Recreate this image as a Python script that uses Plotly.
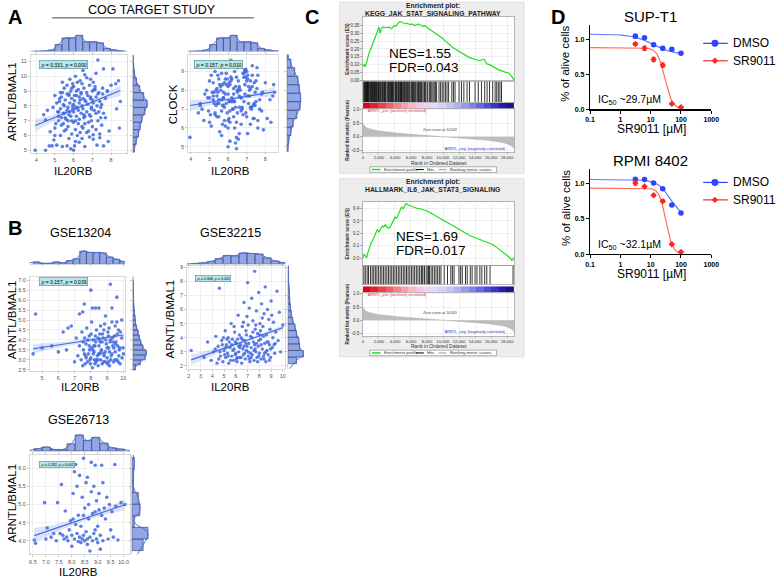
import numpy as np
import plotly.graph_objects as go

W, H = 777, 581
FONT = "Arial, Liberation Sans, Helvetica, sans-serif"
PT = "#4169e1"
BAND = "rgba(65,105,225,0.18)"
HIST_FILL = "#8fa6e8"
HIST_EDGE = "#404060"
KDE = "#4a6ee0"

# ======================= DATA =======================
# ---- Panel A : COG TARGET study ----
cog_il20rb = [3.95,4.5,4.7,4.85,4.95,5.1,5.4,5.65,5.85,6.0,
              6.05,6.3,6.45,6.6,7.25,7.6,7.05,7.4,7.85,7.05,
              6.7,4.75,5.0,4.5,5.2,4.4,5.3,5.5,5.7,5.9,
              6.1,6.25,6.5,6.8,7.2,7.5,7.9,8.45,5.2,5.35,
              5.5,5.6,5.75,5.9,6.0,6.15,6.3,6.4,6.55,6.7,
              6.9,7.1,7.3,7.6,4.9,5.1,5.3,5.45,5.55,5.7,
              5.8,5.95,6.05,6.2,6.3,6.45,6.6,6.75,6.9,7.05,
              7.2,7.4,7.7,8.3,8.5,5.0,5.3,5.5,5.65,5.85,
              6.0,6.15,6.25,6.4,6.55,6.7,6.85,7.0,7.15,7.35,
              7.55,7.8,8.0,8.25,5.4,5.8,6.1,6.35,6.6,6.9,
              7.2,7.6,8.1,8.4,7.3,6.5,5.95,5.25,4.6,6.0,
              6.35,5.45,7.0,6.1,5.75,6.85,7.45,6.5,5.65,6.95,
              5.15,5.35,5.55,5.75,5.95,6.15,6.35,6.55,6.75,6.95,
              7.15,7.35,7.55,5.25,5.45,5.65,5.85,6.05,6.25,6.45,
              6.65,6.85,7.05,7.25,7.45,5.05,5.6,6.2,6.8,7.4,
              5.4,5.9,6.4,6.9,7.5,5.7,6.0,6.3,6.6,7.0,
              5.2,5.8,6.1,6.5,7.1,7.7,5.5,6.2,6.7,7.3,
              5.0,5.35,5.9,6.45,6.95,7.8,6.1,6.6,5.75,7.2]
cog_arntl = [5.0,5.0,5.3,5.3,5.7,5.35,5.25,5.3,5.1,5.0,
             5.3,5.55,5.8,5.25,5.35,5.3,5.75,5.85,5.6,6.05,
             6.2,6.25,6.5,7.05,7.3,7.4,6.0,6.3,6.6,6.1,
             6.4,6.8,6.5,6.9,6.4,6.7,6.3,6.5,7.0,7.2,
             7.5,7.1,7.4,7.0,7.6,7.3,7.1,7.5,7.2,7.6,
             7.3,7.7,7.0,7.5,7.9,8.2,7.8,8.1,8.4,7.9,
             8.2,8.0,8.35,7.9,8.2,8.0,8.4,8.1,8.5,8.2,
             8.6,8.3,8.5,7.8,8.3,8.7,8.9,9.2,8.8,9.0,
             9.3,8.7,9.1,8.8,9.2,8.9,9.4,9.0,9.3,8.9,
             9.2,9.0,9.4,9.5,9.6,9.8,10.0,9.7,10.1,9.8,
             10.2,10.5,10.5,9.7,11.1,10.4,9.5,8.5,7.7,6.9,
             6.2,6.8,6.6,5.6,5.8,5.9,7.9,7.8,7.7,7.0,
             7.6,8.6,7.2,8.8,7.8,9.0,8.4,7.4,8.7,7.9,
             9.1,7.6,8.8,8.3,7.5,9.4,7.3,8.7,7.7,9.5,
             8.3,7.4,9.6,8.0,7.2,6.8,6.4,6.0,6.3,6.1,
             8.9,8.5,8.9,8.6,8.1,7.0,8.1,8.6,7.3,8.4,
             7.6,7.6,7.9,8.5,9.1,7.2,8.0,9.6,9.9,8.8,
             6.0,6.7,9.2,6.6,7.8,9.0,7.0,6.8,8.7,7.5]
cog_clock = [5.5,7.3,6.4,8.0,6.9,6.1,7.7,5.6,8.6,5.0,
             7.4,6.6,4.9,8.2,7.1,6.0,8.8,6.5,7.9,5.7,
             7.6,7.8,6.3,7.2,8.4,6.8,9.0,7.5,6.2,8.9,
             5.3,7.0,9.2,6.7,8.1,7.4,5.9,8.3,7.7,9.4,
             6.6,8.0,7.2,9.5,6.0,8.7,7.8,5.2,8.5,6.9,
             9.1,7.3,8.2,6.4,7.6,8.8,6.8,7.9,5.8,8.3,
             7.1,9.3,6.5,8.6,7.4,5.5,8.1,7.0,9.0,7.7,
             6.2,8.4,7.5,6.3,7.9,8.5,6.7,7.3,8.9,6.1,
             7.8,9.6,7.0,8.2,5.4,7.6,8.7,6.6,8.0,7.2,
             9.2,6.9,8.4,7.5,8.1,6.4,7.4,9.0,5.7,8.3,
             7.1,8.8,6.5,7.7,9.3,6.8,8.6,7.9,7.0,8.2,
             6.0,7.3,8.5,6.3,7.6,8.9,7.2,8.0,7.5,9.1,
             7.9,7.2,8.3,7.6,6.8,8.5,7.4,8.0,7.1,8.7,
             7.7,6.5,8.1,7.3,8.8,6.9,7.8,8.4,7.5,6.3,
             8.0,7.4,8.6,7.0,7.9,6.7,8.2,7.6,8.9,7.3,
             6.6,8.3,7.1,7.8,8.5,7.2,6.4,8.1,7.7,9.0,
             7.5,8.4,6.9,7.9,8.2,7.0,8.6,7.4,6.2,8.8,
             7.6,8.0,7.3,8.7,6.8,7.8,8.3,7.1,7.9,8.5]
cog_fit_arntl = (4.62, 0.52)      # intercept, slope
cog_fit_clock = (6.56, 0.16)
cog_stat_arntl = "<i>ρ</i> = 0.331, <i>p</i> = 0.000"
cog_stat_clock = "<i>ρ</i> = 0.157, <i>p</i> = 0.010"
cog_hist_x = (3.9, 0.37, [1, 2, 5, 22, 42, 42, 50, 30, 30, 27, 10, 5, 2])
cog_hist_arntl = (4.9, 0.5, [6, 12, 20, 26, 32, 42, 50, 38, 24, 13, 6, 3, 1])
cog_hist_clock = (4.7, 0.45, [3, 6, 14, 22, 36, 48, 50, 45, 40, 28, 14, 3])

# ---- Panel B : GSE13204 ----
b1_il20rb = [4.45,4.6,5.0,5.6,6.0,6.3,6.5,6.6,6.8,7.1,
             7.3,7.5,7.6,8.0,8.1,8.3,8.5,9.2,9.6,9.3,
             9.9,9.6,7.4,7.5,7.6,7.7,7.8,7.9,8.0,8.05,
             8.1,8.15,8.2,8.25,8.3,8.35,8.4,8.45,8.5,8.55,
             8.6,8.65,8.7,8.75,8.8,8.85,8.9,8.95,9.0,9.05,
             9.1,9.15,9.2,9.25,9.3,9.35,9.4,9.45,9.5,9.55,
             9.6,9.7,9.75,9.8,9.9,10.0,7.45,7.55,7.65,7.75,
             7.85,7.95,8.05,8.25,8.35,8.55,8.7,8.8,9.0,9.1,
             9.3,9.5,8.45,8.6,7.2,7.0,7.3,8.9,9.15,8.15,
             7.9,9.65,
             7.52,7.68,7.82,7.98,8.12,8.28,8.42,8.58,8.72,8.88,
             9.02,9.18,9.32,9.48,9.62,9.78,9.92,7.62,7.92,8.22,
             8.52,8.82,9.12,9.42,9.72,8.02,8.32,8.62,8.92,9.22,
             9.52,9.82,7.72,8.18,8.48,8.78,9.08,9.38,9.68,9.98]
b1_arntl = [3.3,5.3,3.6,3.7,3.4,4.4,3.5,4.6,4.7,4.1,
            5.3,5.4,5.8,6.5,5.6,5.6,5.6,6.8,6.15,5.6,
            5.0,4.9,3.0,2.7,3.3,3.8,2.9,4.2,3.1,3.6,
            2.6,4.0,3.4,2.8,3.9,4.5,3.2,2.7,3.7,4.3,
            3.0,3.5,2.8,4.1,3.3,4.8,2.9,3.8,3.1,4.4,
            3.6,2.7,4.0,3.2,4.9,3.7,2.9,4.2,3.4,3.9,
            3.0,4.5,3.5,2.8,4.1,3.3,4.4,3.5,2.8,4.6,
            3.3,3.0,4.9,3.7,3.0,3.3,3.9,4.5,3.6,2.9,
            3.3,4.7,4.1,4.7,3.2,2.9,3.7,5.2,3.4,3.3,
            3.7,3.7,
            3.9,3.2,4.0,2.8,3.5,4.2,3.0,3.9,4.3,3.4,
            2.8,3.9,4.1,3.0,4.3,3.6,3.1,4.1,3.5,3.0,
            4.0,3.2,4.6,3.6,3.2,4.3,2.9,3.4,4.0,3.0,
            3.8,4.4,3.1,3.7,3.3,2.9,4.2,3.9,2.9,3.6]
b1_fit = (3.0, 0.125)
b1_stat = "<i>ρ</i> = 0.157, <i>p</i> = 0.039"
b1_hist_x = (4.45, 0.41, [4, 1, 1, 4, 2, 7, 11, 28, 25, 25, 24, 15, 10, 5])
b1_hist_y = (2.5, 0.25, [5, 14, 23, 25, 19, 15, 12, 10, 7, 5, 4, 3, 2, 1.5, 1, 1, 0.5, 0.5])

# ---- Panel B : GSE32215 ----
b2_il20rb = [2.2,3.3,3.6,3.9,4.1,4.3,4.4,4.5,4.6,4.7,
             4.8,4.9,5.0,5.1,5.15,5.2,5.3,5.35,5.4,5.5,
             5.6,5.65,5.7,5.8,5.85,5.9,6.0,6.05,6.1,6.2,
             6.25,6.3,6.35,6.4,6.5,6.55,6.6,6.65,6.7,6.75,
             6.8,6.85,6.9,6.95,7.0,7.05,7.1,7.15,7.2,7.25,
             7.3,7.35,7.4,7.45,7.5,7.55,7.6,7.65,7.7,7.75,
             7.8,7.85,7.9,7.95,8.0,8.05,8.1,8.15,8.2,8.25,
             8.3,8.35,8.4,8.45,8.5,8.55,8.6,8.65,8.7,8.75,
             8.8,8.85,8.9,8.95,9.0,9.1,9.2,9.3,9.4,9.5,
             9.6,9.7,9.8,10.0,5.45,6.15,6.45,7.05,7.6,8.1,
             5.95,6.7,7.3,7.95,8.4,
             4.25,4.55,4.85,5.05,5.25,5.55,5.75,5.95,6.15,6.35,
             6.55,6.75,6.95,7.15,7.35,7.55,7.75,7.95,8.15,8.35,
             8.55,8.75,8.95,9.15,9.35,4.65,5.15,5.65,6.05,6.45,
             6.85,7.25,7.65,8.05,8.45,8.85,9.25,5.35,6.25,7.05,
             7.85,8.65,4.95,5.85,6.65,7.45,8.25,9.05,6.9,7.7]
b2_arntl = [3.1,2.6,3.7,2.4,3.0,4.1,2.2,3.4,7.5,2.7,
            3.8,2.3,3.1,4.5,2.6,3.5,2.9,4.0,2.2,3.3,
            5.0,2.7,3.9,2.4,3.2,4.4,2.9,3.6,2.3,5.6,
            3.0,4.2,2.6,3.5,2.2,4.8,3.2,2.8,6.5,3.8,
            2.5,4.5,3.1,5.5,7.9,2.7,3.6,6.1,2.3,4.1,
            3.3,6.8,2.8,5.2,3.7,2.4,8.7,4.6,3.0,5.9,
            2.6,4.3,3.4,7.2,2.9,5.0,3.9,2.5,6.4,3.2,
            4.8,2.7,5.7,3.6,7.6,2.3,4.2,3.1,6.0,2.8,
            5.3,3.5,4.6,2.6,6.6,3.3,5.1,2.9,4.4,7.3,
            3.8,5.8,3.0,4.9,3.7,3.9,2.6,4.9,3.5,4.5,
            2.8,3.4,2.6,3.8,2.5,
            3.2,2.5,3.5,2.8,3.9,2.4,3.1,3.7,2.6,3.3,
            3.9,2.9,3.4,2.5,4.0,3.1,3.6,2.7,3.5,4.1,
            3.0,3.7,3.2,4.0,3.6,3.0,3.3,3.5,2.5,4.0,
            3.6,2.9,3.2,4.2,2.9,2.4,3.5,2.7,3.4,3.0,
            2.3,3.7,4.0,4.8,5.1,4.4,5.4,5.6,4.2,4.9]
b2_fit = (1.79, 0.2925)
b2_stat = "<i>ρ</i> = 0.308, <i>p</i> = 0.000"
b2_hist_x = (2.2, 0.68, [1, 3, 8, 18, 29, 28, 38, 36, 34, 21, 10, 4])
b2_hist_y = (2.16, 0.47, [22, 40, 30, 28, 22, 18, 12, 8, 6, 4, 3, 2, 1, 0.5, 0.5])

# ---- Panel B : GSE26713 ----
b3_il20rb = [6.55,6.6,6.95,7.0,7.05,7.2,7.4,7.45,7.55,7.6,
             7.7,7.75,7.85,7.9,7.95,8.0,8.05,8.05,8.1,8.1,
             8.15,8.2,8.2,8.25,8.25,8.3,8.3,8.35,8.35,8.4,
             8.4,8.45,8.45,8.5,8.5,8.55,8.55,8.6,8.6,8.65,
             8.65,8.7,8.7,8.75,8.75,8.8,8.8,8.85,8.85,8.9,
             8.9,8.95,8.95,9.0,9.0,9.05,9.05,9.1,9.1,9.15,
             9.15,9.2,9.25,9.3,9.35,9.4,9.45,9.5,9.55,9.6,
             9.66,9.7,9.78,9.9,10.05,7.3,7.8,8.0,8.45,8.9,
             9.2,8.6,7.65,8.15]
b3_arntl = [4.02,3.93,5.05,4.05,4.35,4.1,4.0,5.05,4.2,5.55,
            4.05,4.82,4.0,4.3,4.55,4.15,4.6,5.3,4.05,5.9,
            6.1,4.2,5.5,3.98,4.7,4.1,5.8,4.4,3.95,4.05,
            5.2,6.27,4.15,4.9,4.0,5.6,4.25,4.05,3.9,5.0,
            4.6,3.72,4.1,6.16,5.35,4.0,4.75,5.5,4.2,6.08,
            4.8,4.05,5.1,4.4,3.95,4.85,5.3,3.77,4.15,6.08,
            4.7,4.0,4.9,4.6,5.2,4.05,5.0,4.3,4.8,4.1,
            6.1,4.95,4.02,5.05,5.0,4.2,4.1,3.85,4.7,4.3,
            5.6,5.75,4.15,4.45]
b3_fit = (2.55, 0.243)
b3_stat = "<i>ρ</i> = 0.282, <i>p</i> = 0.002"
b3_hist_x = (6.54, 0.318, [3, 5, 2, 2, 9, 20, 13, 17, 10, 4, 2.5])
b3_hist_y = (3.73, 0.32, [14, 20, 3, 10, 8, 2, 2, 3])

# ---- Panel C : GSEA ----
kegg_rank = [0,150,300,450,600,750,900,1050,1200,1350,
             1500,1650,1800,1900,2000,2150,2300,2500,2700,2900,
             3100,3300,3500,3700,3900,4100,4300,4500,4700,4900,
             5100,5300,5500,5700,5900,6100,6300,6500,6700,6900,
             7100,7300,7500,7700,7900,8100,8300,8500,8800,9100,
             9400,9700,10000,10300,10600,10900,11200,11500,11800,12100,
             12400,12700,13000,13300,13600,13900,14200,14500,14800,15100,
             15300,15500,15800,16100,16400,16700,17000,17300,17600,17900,
             18200,18500,18900]
kegg_es = [0.09,0.10,0.085,0.12,0.15,0.17,0.19,0.21,0.23,0.24,
           0.26,0.28,0.31,0.33,0.34,0.30,0.33,0.34,0.335,0.34,
           0.335,0.34,0.33,0.335,0.35,0.345,0.36,0.37,0.375,0.37,
           0.365,0.36,0.365,0.36,0.355,0.36,0.355,0.35,0.355,0.36,
           0.355,0.35,0.345,0.35,0.34,0.33,0.325,0.32,0.31,0.30,
           0.285,0.275,0.265,0.25,0.24,0.225,0.21,0.20,0.19,0.18,
           0.17,0.16,0.15,0.145,0.14,0.135,0.13,0.125,0.13,0.135,
           0.12,0.105,0.10,0.09,0.08,0.07,0.065,0.06,0.055,0.05,
           0.045,0.03,0.0]
kegg_hits = [100,250,400,520,650,800,900,1050,1200,1300,1450,1600,1750,1850,2000,
             2200,2350,2500,2700,2850,3000,3200,3400,3550,3700,3900,4050,4200,4350,
             4500,4600,4750,4900,5100,5300,5450,5650,5850,6000,6200,6400,6600,6750,
             6950,7200,7400,7600,7800,8100,8300,8600,8900,9200,9500,9900,10300,10700,
             11100,11500,12000,12600,13300,14000,14800,15500,16200,16500,16900,17300,
             180,330,470,580,720,980,1130,1380,1520,1680,1950,2100,2420,2600,2780,
             3100,3300,3480,3620,3800,4120,4420,4680,4820,5000,5200,5550,5750,6100,
             6300,6500,6850,7050,7300,7700,8000,8450,8750,9050,9700,10100,10500,11300,
             12300,13000,14400,15200,15800,16700,17100]
kegg_es_ticks = [0.0, 0.05, 0.10, 0.15, 0.20, 0.25, 0.30, 0.35]
kegg_title = "KEGG_JAK_STAT_SIGNALING_PATHWAY"
kegg_nes, kegg_fdr = "1.55", "0.043"

hall_rank = [0,150,300,450,600,800,1000,1200,1400,1600,
             1800,2000,2200,2400,2600,2800,3000,3200,3400,3600,
             3800,4000,4200,4400,4600,4800,5000,5200,5400,5600,
             5800,6000,6200,6500,6800,7100,7400,7700,8000,8300,
             8600,9000,9400,9800,10200,10600,11000,11400,11800,12200,
             12600,13000,13400,13800,14200,14600,15000,15400,15800,16200,
             16600,17000,17400,17800,18200,18600,18900]
hall_es = [0.0,0.03,0.02,0.0,0.04,0.08,0.12,0.14,0.17,0.20,
           0.23,0.21,0.24,0.26,0.25,0.27,0.25,0.24,0.25,0.28,
           0.31,0.33,0.32,0.35,0.38,0.41,0.40,0.42,0.44,0.43,
           0.425,0.42,0.41,0.405,0.40,0.40,0.395,0.39,0.38,0.37,
           0.36,0.345,0.33,0.315,0.30,0.285,0.27,0.25,0.235,0.22,
           0.205,0.19,0.18,0.17,0.16,0.15,0.14,0.13,0.12,0.11,
           0.09,0.07,0.05,0.03,0.01,-0.02,0.005]
hall_hits = [120,530,940,1350,1550,1960,2170,2580,2990,3400,3600,3800,4000,4210,
             4620,4830,5240,5640,6050,6460,6670,6870,7080,7280,7490,7690,7900,
             8100,8300,8510,8920,9330,9740,10560,10970,11380,11990,12400,13020,
             13630,14240,14850,15460,15870,18740,
             300,700,1150,1750,2370,2780,3200,4420,5040,5440,5850,6260,7380,8200,
             8710,9130,9540,10150,11170,12200,12800,13400,14000,14600,15200]
hall_es_ticks = [0.0, 0.1, 0.2, 0.3, 0.4]
hall_title = "HALLMARK_IL6_JAK_STAT3_SIGNALING"
hall_nes, hall_fdr = "1.69", "0.017"

metric_rank = [0,100,300,600,1000,1500,2000,3000,4000,5000,6000,7000,8000,9000,
               10000,10549,11000,12000,13000,14000,15000,16000,17000,17500,18000,
               18400,18700,18900]
metric_val = [0.48,0.42,0.36,0.31,0.27,0.24,0.21,0.17,0.14,0.115,0.09,0.07,0.05,0.03,
              0.01,0.0,-0.01,-0.035,-0.06,-0.085,-0.11,-0.14,-0.18,-0.21,-0.25,
              -0.3,-0.36,-0.45]
rank_ticks = [0, 2000, 4000, 6000, 8000, 10000, 12000, 14000, 16000, 18000]
rank_max = 18900
grad_colors = ['#e4001a','#e8202c','#ec4048','#f06068','#f48088','#f7a0a8','#f8b8c8',
               '#f4c8e0','#eed4ee','#e0dcf6','#d4d4f8','#c4c4f6','#b0b0f2','#9898ee',
               '#8080ea','#6666e4','#4c4cdc','#3434cc','#2a1aa8','#22108a']

# ---- Panel D : dose response ----
dose = [3.125, 6.25, 12.5, 25, 50, 100]
supt1_dmso = [1.04, 1.02, 0.92, 0.87, 0.855, 0.80]
supt1_dmso_err = [0.03, 0.01, 0.02, 0.025, 0.015, 0.01]
supt1_sr = [0.93, 0.87, 0.71, 0.63, 0.08, 0.03]
supt1_sr_err = [0.02, 0.03, 0.03, 0.03, 0.01, 0.015]
supt1_dmso_fit = (1.07, 0.78, 12.0, 1.3)   # top, bottom, EC50, hill
supt1_sr_fit = (0.88, 0.0, 29.7, 3.5)
rpmi_dmso = [1.055, 1.05, 1.0, 0.92, 0.69, 0.58]
rpmi_dmso_err = [0.01, 0.01, 0.01, 0.01, 0.01, 0.01]
rpmi_sr = [1.0, 0.95, 0.83, 0.745, 0.14, 0.03]
rpmi_sr_err = [0.03, 0.01, 0.01, 0.02, 0.01, 0.01]
rpmi_dmso_fit = (1.05, 0.5, 45.0, 2.0)
rpmi_sr_fit = (0.93, 0.0, 32.1, 4.0)
dose_ticks = [0.1, 1, 10, 100, 1000]
surv_ticks = [0.0, 0.5, 1.0]

# ======================= BUILD =======================
fig = go.Figure()
axes, shapes, anns = {}, [], []
_n = [0]


def add_axes(box, xkw, ykw):
    _n[0] += 1
    s = "" if _n[0] == 1 else str(_n[0])
    x0, x1, y0, y1 = box
    xa = dict(domain=[x0 / W, x1 / W], anchor="y" + s, showgrid=False, zeroline=False)
    ya = dict(domain=[1 - y1 / H, 1 - y0 / H], anchor="x" + s, showgrid=False, zeroline=False)
    xa.update(xkw)
    ya.update(ykw)
    axes["xaxis" + s] = xa
    axes["yaxis" + s] = ya
    return "x" + s, "y" + s


def text(t, x, y, size, color="black", xa="center", ya="middle", angle=0, weight="normal", bg=None, border=None):
    d = dict(text=t, x=x / W, y=1 - y / H, xref="paper", yref="paper", showarrow=False,
             xanchor=xa, yanchor=ya, textangle=angle,
             font=dict(size=size, color=color, family=FONT, weight=weight))
    if bg:
        d.update(bgcolor=bg, bordercolor=border, borderwidth=0.6, borderpad=1)
    anns.append(d)


def rect(x0, y0, x1, y1, fill, line="rgba(0,0,0,0)", lw=0):
    shapes.append(dict(type="rect", xref="paper", yref="paper", x0=x0 / W, x1=x1 / W,
                       y0=1 - y1 / H, y1=1 - y0 / H, fillcolor=fill,
                       line=dict(color=line, width=lw), layer="below"))


def seg(x0, y0, x1, y1, color, w=1.0):
    shapes.append(dict(type="line", xref="paper", yref="paper", x0=x0 / W, x1=x1 / W,
                       y0=1 - y0 / H, y1=1 - y1 / H, line=dict(color=color, width=w), layer="above"))


def sc_axis(rng, dtick, fmt=None):
    d = dict(range=rng, dtick=dtick, showgrid=True, gridcolor="#e6e6e6", gridwidth=0.6,
             showline=True, mirror=True, linecolor="#c8c8c8", linewidth=0.7,
             ticks="outside", ticklen=2, tickwidth=0.6, tickcolor="#a0a0a0",
             tickfont=dict(size=5.5, color="#555555", family=FONT))
    if fmt:
        d["tickformat"] = fmt
    return d


def marg_axis(rng, dtick):
    return dict(range=rng, dtick=dtick, showticklabels=False, showline=True,
                linecolor="#c8c8c8", linewidth=0.7, ticks="outside", ticklen=2,
                tickwidth=0.6, tickcolor="#a0a0a0")


def joint(main_box, top_box, right_box, xr, yr, xd, yd, xs, ys, fit, band, xh, yh,
          xfmt=None, yfmt=None, msize=3.6):
    xa, ya = add_axes(main_box, sc_axis(xr, xd, xfmt), sc_axis(yr, yd, yfmt))
    b0, b1 = fit
    a, b = band
    xmean = float(np.mean(xs))
    xx = np.linspace(min(xs), max(xs), 40)
    yy = b0 + b1 * xx
    hw = a + b * (xx - xmean) ** 2
    fig.add_trace(go.Scatter(x=np.r_[xx, xx[::-1]], y=np.r_[yy + hw, (yy - hw)[::-1]],
                             mode="lines", fill="toself", fillcolor=BAND, line=dict(width=0),
                             xaxis=xa, yaxis=ya))
    fig.add_trace(go.Scatter(x=xs, y=ys, mode="markers",
                             marker=dict(size=msize, color=PT, opacity=0.85, line=dict(width=0)),
                             xaxis=xa, yaxis=ya))
    fig.add_trace(go.Scatter(x=xx, y=yy, mode="lines", line=dict(color=PT, width=1.1),
                             xaxis=xa, yaxis=ya))
    # top marginal
    s, w, c = xh
    cen = [s + w * (i + 0.5) for i in range(len(c))]
    xt, yt = add_axes(top_box, marg_axis(xr, xd), dict(range=[0, max(c) * 1.1], visible=False))
    fig.add_trace(go.Bar(x=cen, y=c, width=w, marker=dict(color=HIST_FILL, line=dict(color=HIST_EDGE, width=0.7)),
                         xaxis=xt, yaxis=yt))
    fig.add_trace(go.Scatter(x=[s - w] + cen + [s + w * (len(c) + 1)], y=[0] + list(c) + [0], mode="lines",
                             line=dict(color=KDE, width=1, shape="spline", smoothing=1.2), xaxis=xt, yaxis=yt))
    # right marginal
    s, w, c = yh
    cen = [s + w * (i + 0.5) for i in range(len(c))]
    xr2, yr2 = add_axes(right_box, dict(range=[0, max(c) * 1.1], visible=False), marg_axis(yr, yd))
    fig.add_trace(go.Bar(y=cen, x=c, width=w, orientation="h",
                         marker=dict(color=HIST_FILL, line=dict(color=HIST_EDGE, width=0.7)),
                         xaxis=xr2, yaxis=yr2))
    fig.add_trace(go.Scatter(y=[s - w] + cen + [s + w * (len(c) + 1)], x=[0] + list(c) + [0], mode="lines",
                             line=dict(color=KDE, width=1, shape="spline", smoothing=1.2), xaxis=xr2, yaxis=yr2))


# ---------- Panel A ----------
text("<b>A</b>", 10, 15, 20)
text("COG TARGET STUDY", 150, 8, 12.5)
seg(48, 16, 253, 16, "#444444", 1)
joint((26, 124, 53, 152), (26, 124, 32, 50), (130, 146, 53, 152), [3.7, 8.85], [4.84, 11.47], 1, 1,
      cog_il20rb, cog_arntl, cog_fit_arntl, (0.1, 0.056), cog_hist_x, cog_hist_arntl)
text(cog_stat_arntl, 35, 63.5, 5, xa="left", bg="#b8e6e8", border="#4a8a90")
text("IL20RB", 70, 170, 11.5)
text("ARNTL/BMAL1", 7, 100, 11.5, angle=-90)

joint((186, 278, 53, 151), (186, 278, 32, 50), (287, 302, 53, 151), [3.84, 8.7], [4.74, 9.9], 1, 1,
      cog_il20rb, cog_clock, cog_fit_clock, (0.08, 0.04), cog_hist_x, cog_hist_clock)
text(cog_stat_clock, 192, 63.5, 5, xa="left", bg="#b8e6e8", border="#4a8a90")
text("IL20RB", 229, 170, 11.5)
text("CLOCK", 171, 103, 11.5, angle=-90)

# ---------- Panel B ----------
text("<b>B</b>", 10, 228, 20)
text("GSE13204", 77, 233, 12.5)
joint((25, 122, 277, 372), (25, 122, 250, 264), (130, 145, 277, 372), [4.23, 10.1], [2.45, 7.18], 1, 0.5,
      b1_il20rb, b1_arntl, b1_fit, (0.07, 0.0104), b1_hist_x, b1_hist_y, yfmt=".1f")
text(b1_stat, 35, 281.5, 5, xa="left", bg="#b8e6e8", border="#4a8a90")
text("IL20RB", 77, 388, 11.5)
text("ARNTL/BMAL1", 7, 320, 11.5, angle=-90)

text("GSE32215", 229, 233, 12.5)
joint((185, 285, 266, 370), (185, 285, 252, 264), (288, 305, 266, 370), [1.84, 10.2], [1.8, 9.1], 1, 1,
      b2_il20rb, b2_arntl, b2_fit, (0.1, 0.012), b2_hist_x, b2_hist_y, msize=3.4)
text(b2_stat, 193, 278.5, 3.6, xa="left", bg="#b8e6e8", border="#4a8a90")
text("IL20RB", 229, 388, 11.5)
text("ARNTL/BMAL1", 168, 320, 11.5, angle=-90)

text("GSE26713", 75, 422, 12.5)
joint((25, 127, 457, 557), (25, 127, 435, 453), (129, 147, 457, 557), [6.37, 10.24], [3.63, 6.36], 0.5, 0.5,
      b3_il20rb, b3_arntl, b3_fit, (0.06, 0.04), b3_hist_x, b3_hist_y, xfmt=".1f", yfmt=".1f")
text(b3_stat, 35, 466.5, 3.6, xa="left", bg="#b8e6e8", border="#4a8a90")
text("IL20RB", 75, 575, 11.5)
text("ARNTL/BMAL1", 7, 505, 11.5, angle=-90)


# ---------- Panel C ----------
def gsea(top, bottom, es_box, hit_box, grad_box, rk_box, es_rng, es_ticks, es_fmt,
         es_rank, es_val, hits, title, nes, fdr, nes_xy, rk_rng):
    rect(340, top, 528, bottom, "#ededed", "#d6d6d6", 0.6)
    rect(es_box[0], es_box[2], es_box[1], rk_box[3], "white")
    grid = dict(showgrid=True, gridcolor="#e0e0e0", gridwidth=0.5)
    frame = dict(showline=True, mirror=True, linecolor="#8c8c8c", linewidth=0.6)
    tf = dict(size=4.6, color="#333333", family=FONT)
    # ES
    xe, ye = add_axes(es_box, dict(range=[0, rank_max], showticklabels=False, dtick=2000, **grid, **frame),
                      dict(range=es_rng, tickvals=es_ticks, ticktext=[es_fmt % v for v in es_ticks],
                           ticks="outside", ticklen=2, tickwidth=0.5, tickcolor="#666", tickfont=tf,
                           **grid, **frame))
    fig.add_trace(go.Scatter(x=es_rank, y=es_val, mode="lines", line=dict(color="#1ee01e", width=1.2),
                             xaxis=xe, yaxis=ye))
    # hits
    xh, yh = add_axes(hit_box, dict(range=[0, rank_max], showticklabels=False, **frame),
                      dict(range=[0, 1], showticklabels=False, **frame))
    hx, hy = [], []
    for r in hits:
        hx += [r, r, None]
        hy += [0, 1, None]
    fig.add_trace(go.Scatter(x=hx, y=hy, mode="lines", line=dict(color="black", width=0.8),
                             xaxis=xh, yaxis=yh))
    # gradient bar
    n = len(grad_colors)
    xg, yg = add_axes(grad_box, dict(range=[0, rank_max], showticklabels=False),
                      dict(range=[-0.5, 0.5], showticklabels=False))
    fig.add_trace(go.Heatmap(x=[rank_max * (i + 0.5) / n for i in range(n)], y=[0], z=[list(range(n))],
                             colorscale=[[i / (n - 1), c] for i, c in enumerate(grad_colors)],
                             showscale=False, xaxis=xg, yaxis=yg))
    # ranked list
    tfx = dict(size=4.2, color="#333333", family=FONT)
    xk, yk = add_axes(rk_box, dict(range=[0, rank_max], tickvals=rank_ticks, tickangle=0,
                                   ticktext=[f"{v:,}" for v in rank_ticks], ticks="outside", ticklen=1,
                                   tickwidth=0.5, tickcolor="#666", tickfont=tfx, **grid, **frame),
                      dict(range=rk_rng, tickvals=[-0.5, 0.0, 0.5, 1.0], ticktext=["-0.5", "0.0", "0.5", "1.0"],
                           ticks="outside", ticklen=2, tickwidth=0.5, tickcolor="#666", tickfont=tf,
                           **grid, **frame))
    fig.add_trace(go.Scatter(x=metric_rank, y=metric_val, mode="lines", fill="tozeroy",
                             fillcolor="#bdbdbd", line=dict(color="#aaaaaa", width=0.5),
                             xaxis=xk, yaxis=yk))
    # texts
    text("<b>Enrichment plot:</b>", 435, top + 4, 6.8, color="#222")
    text(f"<b>{title}</b>", 435, top + 11.5, 6.8, color="#222")
    text(f"NES={nes}", nes_xy[0], nes_xy[1], 13.5, xa="left")
    text(f"FDR={fdr}", nes_xy[0], nes_xy[1] + 14, 13.5, xa="left")
    text("Enrichment score (ES)", 348, (es_box[2] + es_box[3]) / 2, 4.8, color="#333", angle=-90, weight="bold")
    text("Ranked list metric (Pearson)", 348, (rk_box[2] + rk_box[3]) / 2, 4.5, color="#333", angle=-90,
         weight="bold")
    yz = rk_box[2] + (rk_box[3] - rk_box[2]) * (rk_rng[1] - 0.0) / (rk_rng[1] - rk_rng[0])
    text("'ARNTL_pos' (positively correlated)", 366, rk_box[2] + 3, 3.8, color="#e03030", xa="left")
    text("Zero cross at 10549", 442, yz - 7, 3.8, color="#444")
    text("'ARNTL_neg' (negatively correlated)", 478, rk_box[3] - 4, 3.8, color="#3030d0")
    text("Rank in Ordered Dataset", 441, rk_box[3] + 10, 5, color="#333")
    ly = rk_box[3] + 17
    rect(371, ly - 2.8, 500, ly + 2.8, "white", "#666666", 0.5)
    seg(373, ly, 382, ly, "#1ee01e", 1.5)
    text("Enrichment profile", 383.5, ly, 4.2, color="#333", xa="left")
    seg(418, ly, 426, ly, "black", 1)
    text("Hits", 427.5, ly, 4.2, color="#333", xa="left")
    seg(441, ly, 449, ly, "#aaaaaa", 1.2)
    text("Ranking metric scores", 450.5, ly, 4.2, color="#333", xa="left")


text("<b>C</b>", 312, 15, 20)
gsea(0, 173, (364, 518, 15, 79), (364, 518, 80, 101), (364, 518, 101.7, 107.3), (364, 518, 107.3, 152),
     [0, 0.405], kegg_es_ticks, "%.2f", kegg_rank, kegg_es, kegg_hits, kegg_title, kegg_nes, kegg_fdr,
     (389, 51.7), [-0.58, 1.04])
gsea(178, 358, (364, 518, 201.7, 265), (364, 518, 266, 285), (364, 518, 286.7, 292.7), (364, 518, 293, 337),
     [-0.054, 0.453], hall_es_ticks, "%.1f", hall_rank, hall_es, hall_hits, hall_title, hall_nes, hall_fdr,
     (396, 236.7), [-0.6, 1.05])


# ---------- Panel D ----------
def four_pl(xx, p):
    top, bot, ec50, hill = p
    return bot + (top - bot) / (1 + (xx / ec50) ** hill)


BLUE, BLUE_L = "#2a44ff", "#5a74ff"
RED, RED_L = "#ff2424", "#ff6a5a"


def dose_panel(box, dm, dm_e, sr, sr_e, dm_fit, sr_fit, title, ic50, leg_y):
    axkw = dict(showline=True, linecolor="black", linewidth=1.2, ticks="outside", ticklen=3,
                tickwidth=1, tickcolor="black", tickfont=dict(size=7, color="black", family=FONT, weight="bold"))
    xa, ya = add_axes(box, dict(type="log", range=[-1, 3], tickvals=dose_ticks,
                                ticktext=[f"{v:g}" for v in dose_ticks], **axkw),
                      dict(range=[0, 1.2], tickvals=surv_ticks, ticktext=[f"{v:.1f}" for v in surv_ticks], **axkw))
    xx = np.logspace(-1, 2, 150)
    fig.add_trace(go.Scatter(x=xx, y=four_pl(xx, dm_fit), mode="lines", line=dict(color=BLUE_L, width=1.2),
                             xaxis=xa, yaxis=ya, cliponaxis=False))
    fig.add_trace(go.Scatter(x=xx, y=four_pl(xx, sr_fit), mode="lines", line=dict(color=RED_L, width=1.2),
                             xaxis=xa, yaxis=ya, cliponaxis=False))
    fig.add_trace(go.Scatter(x=dose, y=dm, mode="markers", marker=dict(size=5.5, color=BLUE),
                             error_y=dict(type="data", array=dm_e, color=BLUE, thickness=1, width=2),
                             xaxis=xa, yaxis=ya, cliponaxis=False))
    fig.add_trace(go.Scatter(x=dose, y=sr, mode="markers", marker=dict(size=5, color=RED, symbol="diamond"),
                             error_y=dict(type="data", array=sr_e, color=RED, thickness=1, width=2),
                             xaxis=xa, yaxis=ya, cliponaxis=False))
    x0, x1, y0, y1 = box
    text(title, 656, y0 - 8.5, 15)
    text(f"IC<sub>50</sub> ~{ic50}µM", 601, y1 - 9, 10.5, xa="left")
    text("% of alive cells", 570, (y0 + y1) / 2 - 4, 11.5, angle=-90)
    text("SR9011 [µM]", 657, y1 + 20, 12)
    for k, (lab, col, lc, sym) in enumerate([("DMSO", BLUE, BLUE, "circle"), ("SR9011", RED, RED, "diamond")]):
        yy = leg_y + k * 17.6
        seg(710, yy, 735, yy, lc, 1.2)
        if sym == "circle":
            shapes.append(dict(type="circle", xref="paper", yref="paper", x0=718.5 / W, x1=725.5 / W,
                               y0=1 - (yy + 3.5) / H, y1=1 - (yy - 3.5) / H, fillcolor=col,
                               line=dict(color=col, width=0), layer="above"))
        else:
            cx, cy, r = 722 / W, 1 - yy / H, 3.2
            path = (f"M {cx - r / W} {cy} L {cx} {cy + r / H} L {cx + r / W} {cy} L {cx} {cy - r / H} Z")
            shapes.append(dict(type="path", xref="paper", yref="paper", path=path, fillcolor=col,
                               line=dict(color=col, width=0), layer="above"))
        text(lab, 738, yy, 12, xa="left")


text("<b>D</b>", 562, 15, 20)
dose_panel((595, 718.3, 23.3, 108.3), supt1_dmso, supt1_dmso_err, supt1_sr, supt1_sr_err,
           supt1_dmso_fit, supt1_sr_fit, "SUP-T1", "29.7", 41.7)
dose_panel((595, 718.3, 168.3, 254.3), rpmi_dmso, rpmi_dmso_err, rpmi_sr, rpmi_sr_err,
           rpmi_dmso_fit, rpmi_sr_fit, "RPMI 8402", "32.1", 182)

fig.update_layout(
    width=W, height=H, autosize=False,
    margin=dict(l=0, r=0, t=0, b=0),
    paper_bgcolor="white", plot_bgcolor="white",
    showlegend=False, hovermode=False,
    font=dict(family=FONT),
    shapes=shapes, annotations=anns,
    **axes,
)
fig.write_html("out.html", config={"displayModeBar": False, "staticPlot": True},
               post_script="document.body.style.margin='0px';document.body.style.padding='0px';")
